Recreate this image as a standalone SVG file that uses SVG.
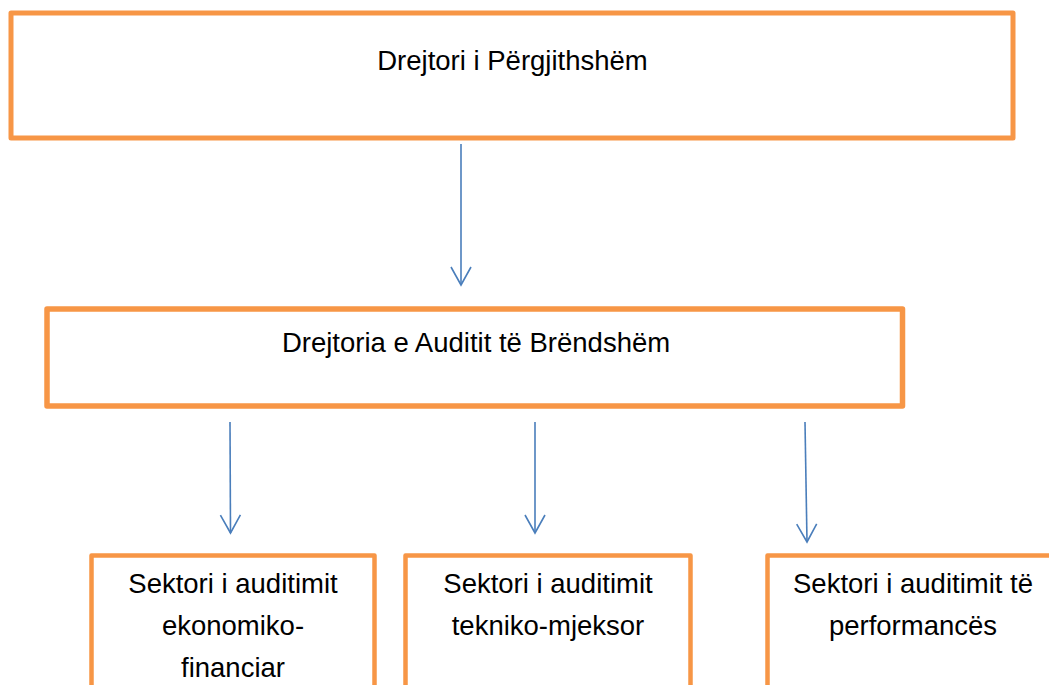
<svg xmlns="http://www.w3.org/2000/svg" width="1049" height="685" viewBox="0 0 1049 685">
<style>
.box{fill:#fff;stroke:#F79646;stroke-width:5;stroke-linejoin:round}
.lbl{font-family:"Liberation Sans",Arial,sans-serif;font-size:27.5px;fill:#000;text-anchor:middle}
.con{stroke:#4A7EBB;stroke-width:1.6;fill:none;marker-end:url(#ah)}
</style>
<defs>
<marker id="ah" markerUnits="userSpaceOnUse" viewBox="-20 -12 22 24" refX="0" refY="0" markerWidth="22" markerHeight="24" orient="auto">
<path d="M-18,-10 L0,0 L-18,10" fill="none" stroke="#4A7EBB" stroke-width="1.6"/>
</marker>
</defs>
<rect width="1049" height="685" fill="#fff"/>
<g id="connectors">
<line class="con" x1="461" y1="144" x2="461" y2="285"/>
<line class="con" x1="230" y1="422" x2="230.5" y2="533"/>
<line class="con" x1="535" y1="422" x2="535" y2="533"/>
<line class="con" x1="805" y1="422" x2="807" y2="542"/>
</g>
<g id="drejtori">
<rect class="box" x="11" y="13" width="1002" height="125"/>
<text class="lbl" x="512.5" y="69.5">Drejtori i Përgjithshëm</text>
</g>
<g id="drejtoria-auditit">
<rect class="box" x="47" y="309" width="855.5" height="97" style="stroke-width:5.5"/>
<text class="lbl" x="476" y="352">Drejtoria e Auditit të Brëndshëm</text>
</g>
<g id="sektori-ekonomiko">
<rect class="box" x="91.5" y="555.5" width="283" height="150" style="stroke-width:4.5"/>
<text class="lbl" x="233" y="593">Sektori i auditimit</text>
<text class="lbl" x="233" y="635">ekonomiko-</text>
<text class="lbl" x="233" y="677">financiar</text>
</g>
<g id="sektori-tekniko">
<rect class="box" x="405.5" y="555.5" width="285" height="150" style="stroke-width:4.5"/>
<text class="lbl" x="548" y="593">Sektori i auditimit</text>
<text class="lbl" x="548" y="635">tekniko-mjeksor</text>
</g>
<g id="sektori-performances">
<rect class="box" x="767.5" y="555.5" width="290" height="150" style="stroke-width:4.5"/>
<text class="lbl" x="913" y="593">Sektori i auditimit të</text>
<text class="lbl" x="913" y="635">performancës</text>
</g>
</svg>
